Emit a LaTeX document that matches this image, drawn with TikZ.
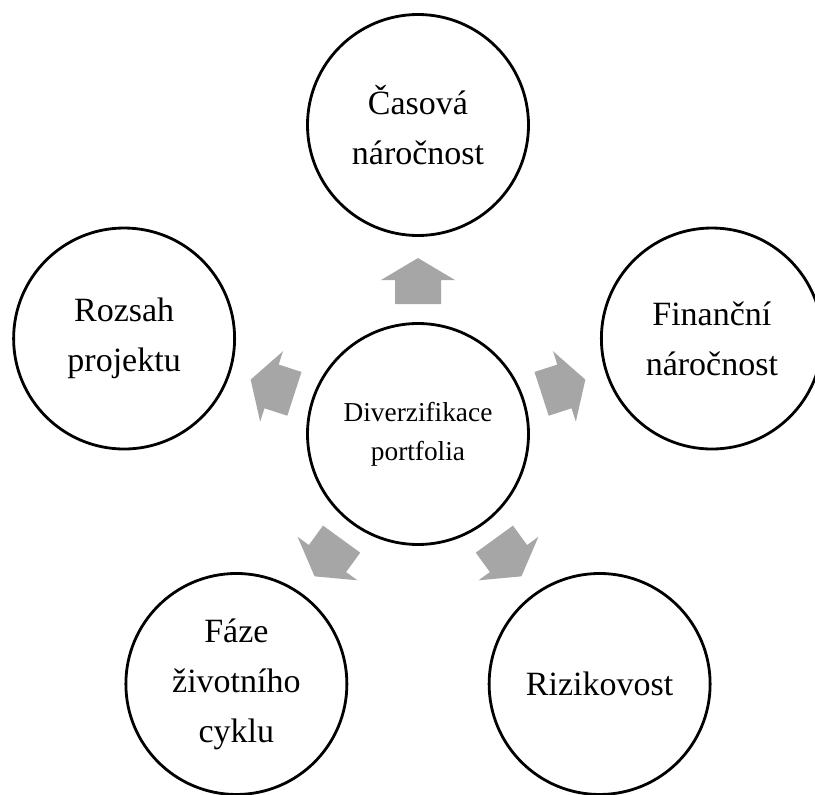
\documentclass[tikz,border=0pt]{standalone}
\usepackage{fontspec}
\setmainfont{Liberation Serif}
\usetikzlibrary{calc}
\definecolor{arrowgray}{RGB}{166,166,166}
\tikzset{
  bubble/.style={circle, draw=black, line width=2.1pt, fill=white,
    minimum size=165.75pt, inner sep=0pt, align=center,
    font=\fontsize{25.5pt}{37.5pt}\selectfont},
  hub/.style={bubble, font=\fontsize{20.5pt}{29.5pt}\selectfont},
  blockarrow/.pic={
    \fill[arrowgray] (-23,-23) -- (1,-23) -- (1,-37) -- (23,0)
      -- (1,37) -- (1,23) -- (-23,23) -- cycle;
  }
}
\begin{document}
\begin{tikzpicture}[x=0.75pt,y=0.75pt]
  \useasboundingbox (0,0) rectangle (815,794);
  \clip (0,0) rectangle (815,794);
  \fill[white] (0,0) rectangle (815,794);

  % central topic and the five surrounding factors
  \node[hub] (ctr) at (418,360) {Diverzifikace\\portfolia};
  \node[bubble] (cas)  at ($(ctr)+(90:309)$)  {Časová\\náročnost};
  \node[bubble] (roz)  at ($(ctr)+(162:309)$) {Rozsah\\projektu};
  \node[bubble] (faze) at ($(ctr)+(234:309)$) {Fáze\\životního\\cyklu};
  \node[bubble] (riz)  at ($(ctr)+(306:309)$) {Rizikovost};
  \node[bubble] (fin)  at ($(ctr)+(18:309)$)  {Finanční\\náročnost};

  % block arrows pointing from the centre outwards
  \pic[rotate=90]  at ($(ctr)!0.495!(cas)$)  {blockarrow};
  \pic[rotate=162] at ($(ctr)!0.495!(roz)$)  {blockarrow};
  \pic[rotate=234] at ($(ctr)!0.495!(faze)$) {blockarrow};
  \pic[rotate=306] at ($(ctr)!0.495!(riz)$)  {blockarrow};
  \pic[rotate=18]  at ($(ctr)!0.495!(fin)$)  {blockarrow};
\end{tikzpicture}
\end{document}
